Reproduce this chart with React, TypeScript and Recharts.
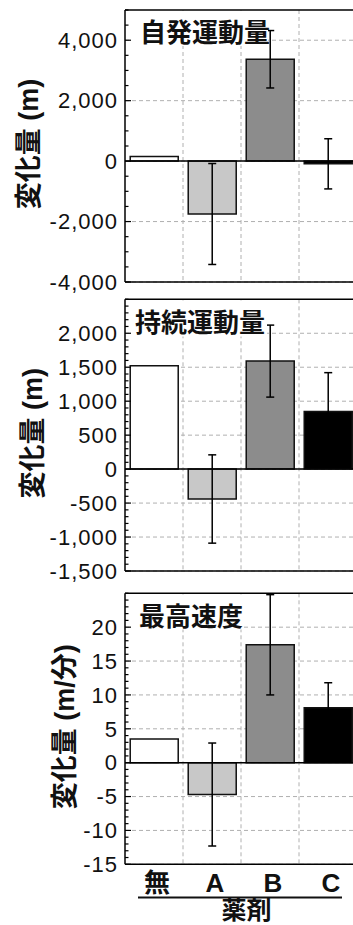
import React from "react";
import {Bar, BarChart, CartesianGrid, Cell, ErrorBar, ReferenceLine, XAxis, YAxis} from "recharts";

const drugs = ["無", "A", "B", "C"];
const barColors = ["#ffffff", "#c8c8c8", "#8c8c8c", "#000000"];

// 自発運動量 (m)
const spontaneousMean = [150, -1750, 3370, -90];
const spontaneousSE = [null, 1670, 950, 830];
const spontaneousTicks = [-4000, -2000, 0, 2000, 4000];

// 持続運動量 (m)
const sustainedMean = [1520, -440, 1590, 850];
const sustainedSE = [null, 650, 530, 570];
const sustainedTicks = [-1500, -1000, -500, 0, 500, 1000, 1500, 2000];

// 最高速度 (m/分)
const speedMean = [3.5, -4.7, 17.4, 8.1];
const speedSE = [null, 7.6, 7.4, 3.7];
const speedTicks = [-15, -10, -5, 0, 5, 10, 15, 20];

const latin = "'Liberation Sans', Arial, 'Noto Sans CJK JP', sans-serif";
const TICK_MARGIN = 7;

const range = (from: number, to: number, step: number) => {
    const out: number[] = [];
    for (let v = from; v <= to + step / 1000; v += step) out.push(Math.round(v * 1000) / 1000);
    return out;
};

const noLabel = () => <g/>;

// axis scale may be a plain d3 scale or a wrapper with map()
const applyScale = (scale: any, v: any): number => {
    if (typeof scale === "function") return scale(v);
    if (scale && typeof scale.map === "function") return scale.map(v);
    if (scale && typeof scale.apply === "function") return scale.apply(v);
    return NaN;
};

interface PanelProps {
    top: number;
    height: number;
    marginTop: number;
    marginBottom: number;
    mean: number[];
    se: (number | null)[];
    domain: [number, number];
    ticks: number[];
    minorStep: number;
    yLabel: string;
    yLabelX: number;
    showX?: boolean;
}

const Panel: React.FC<PanelProps> = (p) => {
    const data = drugs.map((d, i) => ({drug: d, mean: p.mean[i], se: p.se[i]}));
    const minor = range(p.domain[0], p.domain[1], p.minorStep);

    // inward tick marks (long for labelled values, short otherwise) + label
    const renderYTick = (props: any) => {
        const {x, y, payload} = props;
        const axisX = x + TICK_MARGIN;
        const major = p.ticks.includes(payload.value);
        return (
            <g>
                <line x1={axisX} x2={axisX + (major ? 6 : 3.5)} y1={y} y2={y} stroke="#000" strokeWidth={1.2}/>
                {major && (
                    <text x={x} y={y} dy="0.355em" textAnchor="end" fontSize={22} fill="#111"
                          fontFamily={latin} letterSpacing={1}>
                        {payload.value.toLocaleString("en-US")}
                    </text>
                )}
            </g>
        );
    };

    const renderLabel = (props: any) => {
        const vb = props.viewBox;
        const cy = vb.y + vb.height / 2 - 2;
        return (
            <text
                x={p.yLabelX}
                y={cy}
                transform={`rotate(-90, ${p.yLabelX}, ${cy})`}
                textAnchor="middle"
                dominantBaseline="central"
                fontSize={27}
                fontWeight="bold"
                fontFamily={latin}
                fill="#111"
            >
                {p.yLabel}
            </text>
        );
    };

    // dashed grid: horizontal at labelled values, vertical between categories
    const hGrid = ({yAxis}: any) => p.ticks.map((t) => applyScale(yAxis.scale, t)).filter((v) => !isNaN(v));
    const vGrid = ({xAxis}: any) => drugs.slice(1).map((d) => applyScale(xAxis.scale, d)).filter((v) => !isNaN(v));

    return (
        <div style={{position: "absolute", left: 0, top: p.top}}>
            <BarChart
                width={360}
                height={p.height}
                data={data}
                barCategoryGap="9%"
                margin={{top: p.marginTop, right: 3, bottom: p.marginBottom, left: 0}}
            >
                <CartesianGrid
                    stroke="#b0b0b0"
                    strokeDasharray="4 3"
                    horizontalCoordinatesGenerator={hGrid}
                    verticalCoordinatesGenerator={vGrid}
                />
                <XAxis
                    dataKey="drug"
                    height={p.showX ? 30 : 1}
                    axisLine={{stroke: "#000", strokeWidth: 1.5}}
                    tickLine={false}
                    tickSize={0}
                    tickMargin={9}
                    interval={0}
                    tick={p.showX ? {fontSize: 26, fontWeight: "bold", fill: "#111", fontFamily: latin, dx: 3} : false}
                />
                <XAxis
                    xAxisId="top"
                    orientation="top"
                    type="number"
                    domain={[0, 4]}
                    ticks={[0, 4]}
                    interval={0}
                    height={1}
                    tick={noLabel}
                    tickLine={false}
                    axisLine={{stroke: "#000", strokeWidth: 1.5}}
                />
                <YAxis
                    width={125}
                    domain={p.domain}
                    ticks={minor}
                    interval={0}
                    tickSize={0}
                    tickMargin={TICK_MARGIN}
                    tickLine={false}
                    axisLine={{stroke: "#000", strokeWidth: 1.5}}
                    tick={renderYTick}
                    label={renderLabel}
                />
                <Bar dataKey="mean" stroke="#111" strokeWidth={1.5} isAnimationActive={false}>
                    {data.map((d, i) => (
                        <Cell key={d.drug} fill={barColors[i]}/>
                    ))}
                    <ErrorBar dataKey="se" direction="y" width={4} stroke="#000" strokeWidth={1.5}/>
                </Bar>
                <ReferenceLine y={0} stroke="#000" strokeWidth={1.5}/>
            </BarChart>
        </div>
    );
};

const titleStyle = {fontSize: 26, fontWeight: "bold" as const, fontFamily: latin, fill: "#111"};

export default function App() {
    return (
        <div style={{position: "absolute", left: 0, top: 0, width: 353, height: 925, overflow: "hidden", background: "#fff"}}>
            <Panel
                top={0}
                height={300}
                marginTop={9}
                marginBottom={17}
                mean={spontaneousMean}
                se={spontaneousSE}
                domain={[-4000, 5000]}
                ticks={spontaneousTicks}
                minorStep={500}
                yLabel="変化量 (m)"
                yLabelX={29}
            />
            <Panel
                top={290}
                height={300}
                marginTop={8.3}
                marginBottom={18}
                mean={sustainedMean}
                se={sustainedSE}
                domain={[-1500, 2500]}
                ticks={sustainedTicks}
                minorStep={100}
                yLabel="変化量 (m)"
                yLabelX={33}
            />
            <Panel
                top={580}
                height={345}
                marginTop={12.3}
                marginBottom={30.7}
                mean={speedMean}
                se={speedSE}
                domain={[-15, 25]}
                ticks={speedTicks}
                minorStep={1}
                yLabel="変化量 (m/分)"
                yLabelX={65}
                showX
            />
            <svg width={353} height={925} style={{position: "absolute", left: 0, top: 0, pointerEvents: "none"}}>
                <rect x={131} y={11} width={137} height={35} fill="#fff"/>
                <text x={140} y={41.5} {...titleStyle}>自発運動量</text>
                <rect x={131} y={300.5} width={136} height={36} fill="#fff"/>
                <text x={135} y={331.5} {...titleStyle}>持続運動量</text>
                <rect x={131} y={594.5} width={112} height={35} fill="#fff"/>
                <text x={139} y={625.5} {...titleStyle}>最高速度</text>
                <line x1={138} x2={342} y1={897.5} y2={897.5} stroke="#111" strokeWidth={2}/>
                <text x={246.5} y={918.5} textAnchor="middle" {...titleStyle} fontSize={25}>薬剤</text>
            </svg>
        </div>
    );
}
